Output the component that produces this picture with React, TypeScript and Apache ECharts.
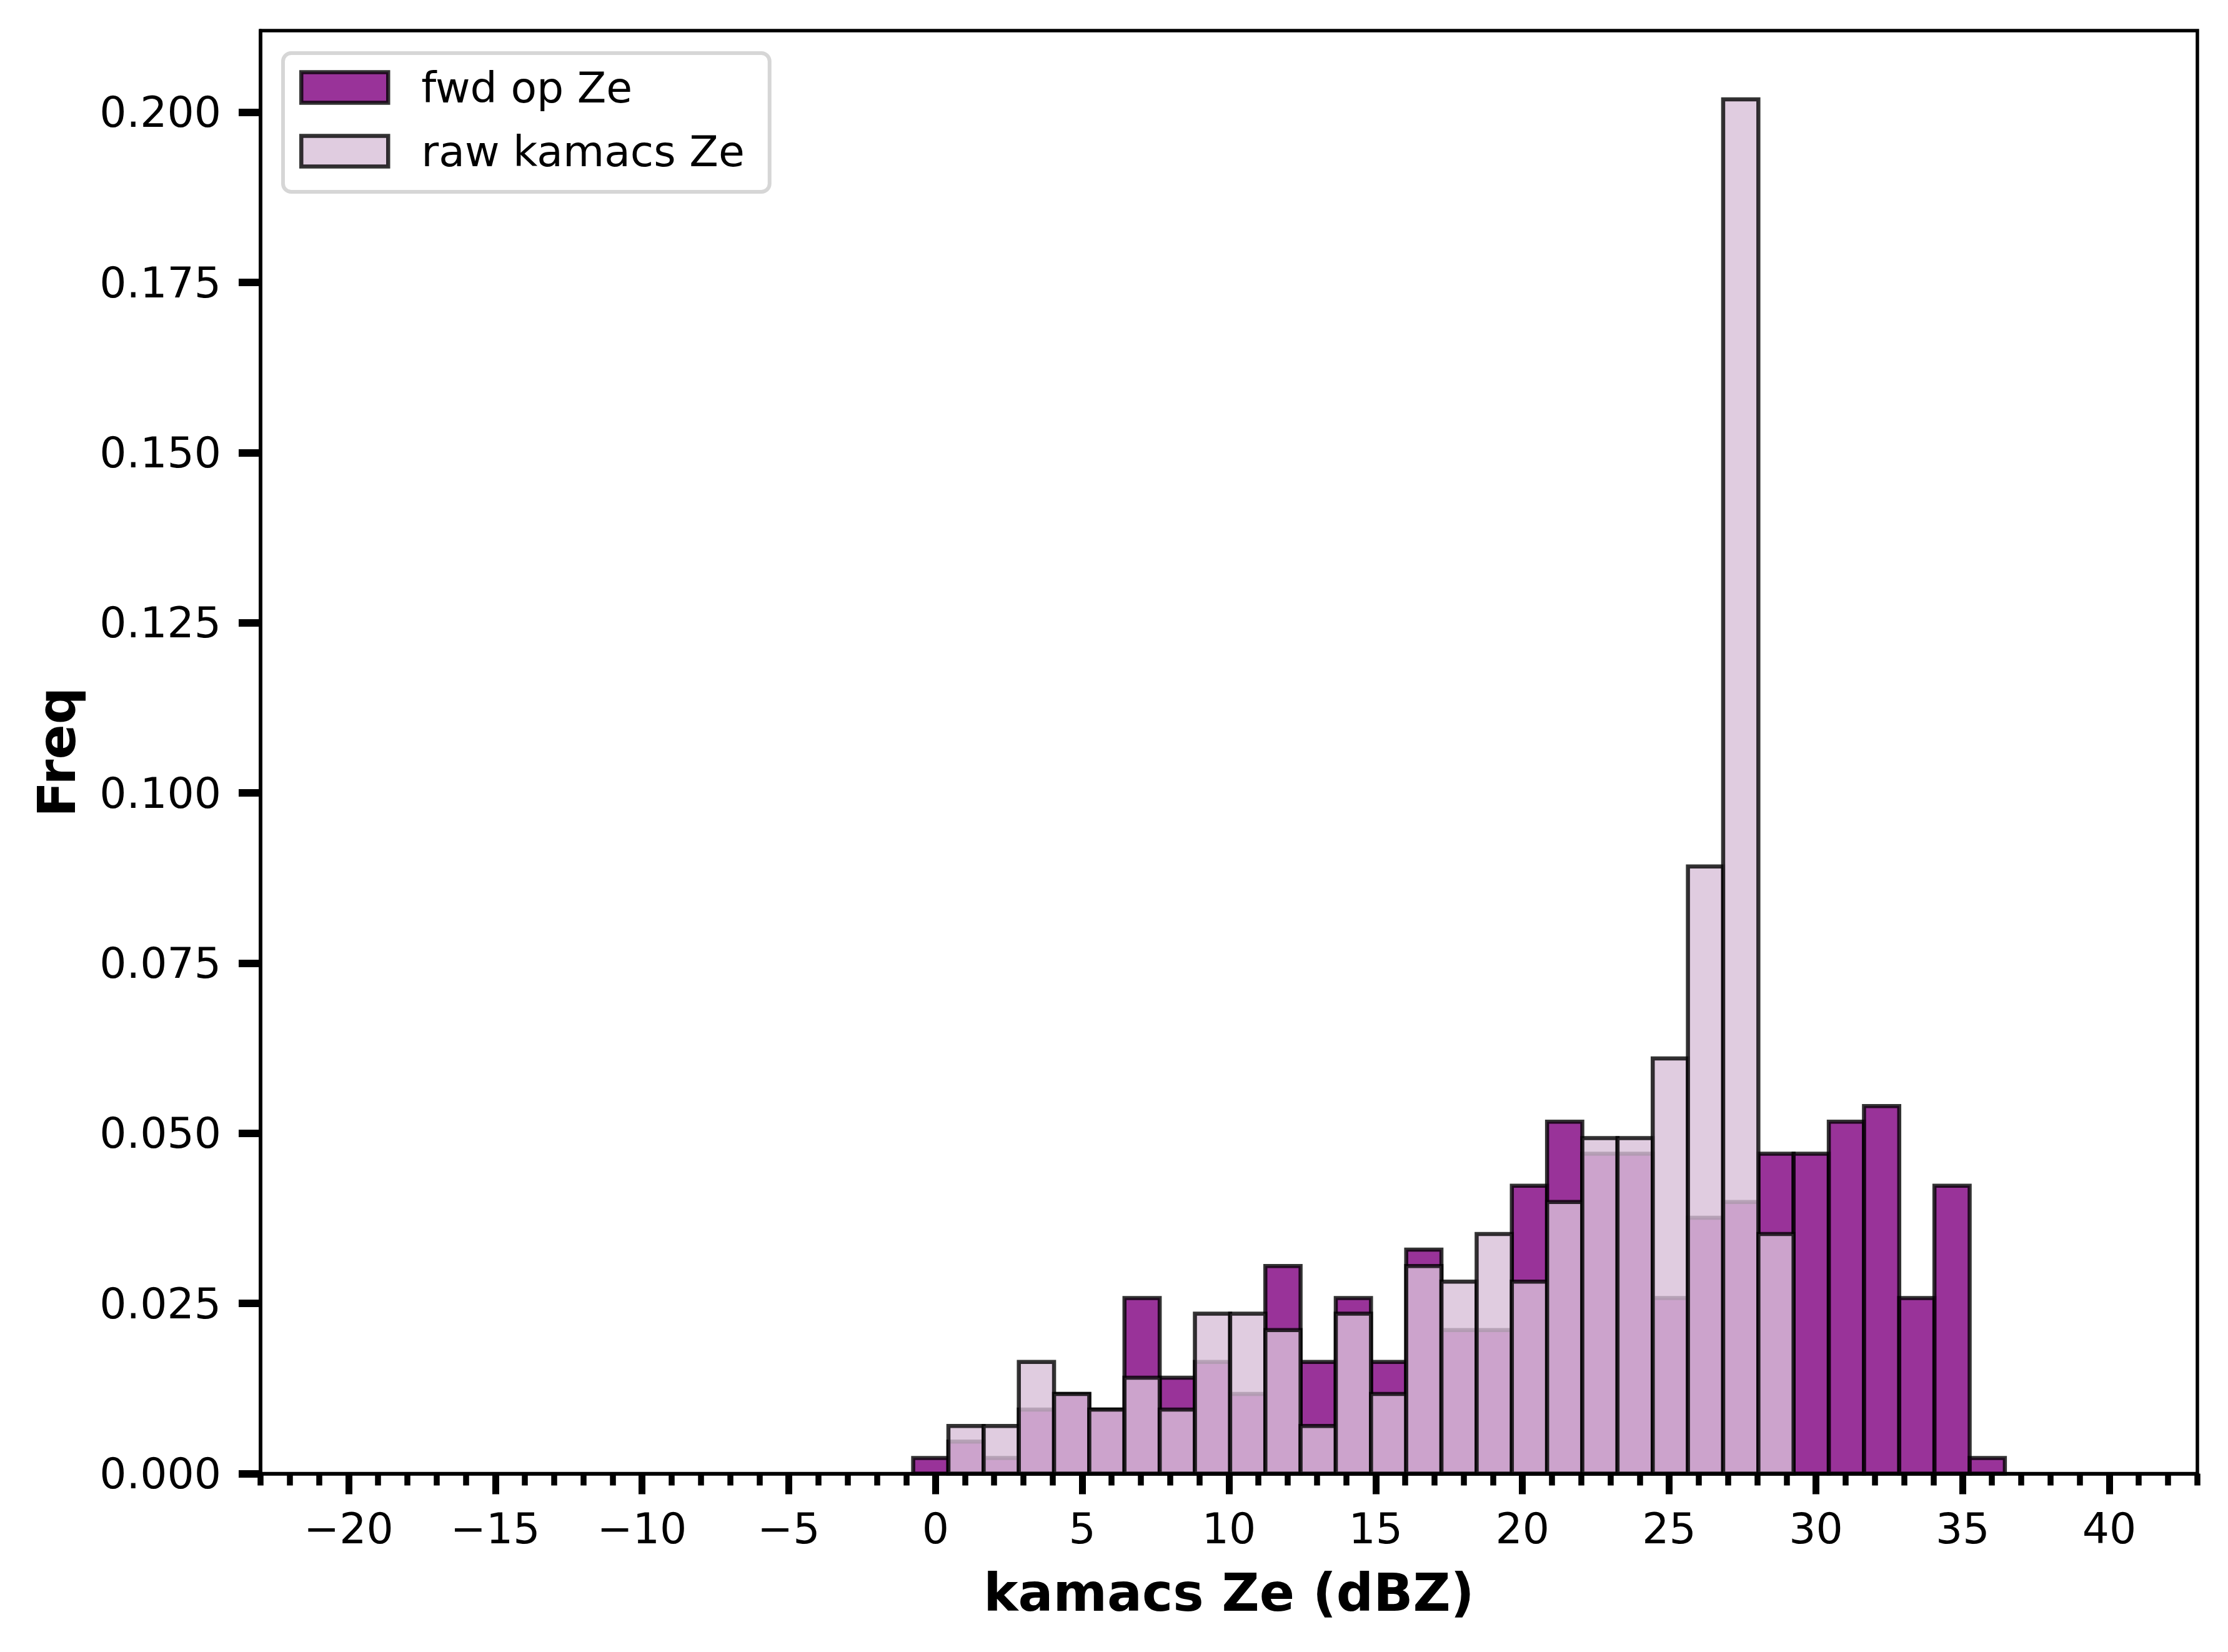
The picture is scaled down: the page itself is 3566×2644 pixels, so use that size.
import { useEffect, useRef } from 'react'
import * as echarts from 'echarts'

// ── Data ──────────────────────────────────────────────────────────────────────
// 31 bins of width 1.2 dBZ; values are the plotted frequencies
const BIN_EDGES = [
  -0.76, 0.44, 1.64, 2.84, 4.04, 5.24, 6.44, 7.64, 8.84, 10.04, 11.24,
  12.44, 13.64, 14.84, 16.04, 17.24, 18.44, 19.64, 20.84, 22.04, 23.24,
  24.44, 25.64, 26.84, 28.04, 29.24, 30.44, 31.64, 32.84, 34.04, 35.24, 36.44,
]

const FWD_FREQ = [
  0.0023, 0.0047, 0.0023, 0.0094, 0.0117, 0.0094, 0.0258, 0.0141, 0.0164, 0.0117,
  0.0305, 0.0164, 0.0258, 0.0164, 0.0329, 0.0211, 0.0211, 0.0423, 0.0517, 0.047,
  0.047, 0.0258, 0.0376, 0.0399, 0.047, 0.047, 0.0517, 0.054, 0.0258, 0.0423, 0.0023,
]

const RAW_FREQ = [
  0, 0.007, 0.007, 0.0164, 0.0117, 0.0094, 0.0141, 0.0094, 0.0235, 0.0235,
  0.0211, 0.007, 0.0235, 0.0117, 0.0305, 0.0282, 0.0352, 0.0282, 0.0399, 0.0493,
  0.0493, 0.061, 0.0892, 0.2019, 0.0352, 0, 0, 0, 0, 0, 0,
]

const X_MAJOR_TICKS = [-20, -15, -10, -5, 0, 5, 10, 15, 20, 25, 30, 35, 40]
const X_MINOR_TICKS = [
  -23, -22, -21, -19, -18, -17, -16, -14, -13, -12, -11, -9, -8, -7, -6, -4, -3, -2, -1,
  1, 2, 3, 4, 6, 7, 8, 9, 11, 12, 13, 14, 16, 17, 18, 19, 21, 22, 23, 24,
  26, 27, 28, 29, 31, 32, 33, 34, 36, 37, 38, 39, 41, 42, 43,
]
const Y_TICKS = [0, 0.025, 0.05, 0.075, 0.1, 0.125, 0.15, 0.175, 0.2]

const SERIES = [
  { name: 'fwd op Ze', values: FWD_FREQ, fill: 'rgba(128,0,128,0.8)' },
  { name: 'raw kamacs Ze', values: RAW_FREQ, fill: 'rgba(216,191,216,0.8)' },
]

const EDGE = 'rgba(0,0,0,0.8)'
const FONT = 'DejaVu Sans'

// plot rectangle (matplotlib axes box)
const GRID = { left: 417, right: 49, top: 49, bottom: 285.5 }

export default function App() {
  const chartRef = useRef<HTMLDivElement>(null)

  useEffect(() => {
    if (!chartRef.current) return
    const chart = echarts.init(chartRef.current, undefined, { renderer: 'svg' })

    const option: any = {
      animation: false,
      backgroundColor: '#fff',
      textStyle: { fontFamily: FONT, color: '#000' },
      grid: [
        { ...GRID, show: true, borderColor: '#000', borderWidth: 5.5, outerBoundsMode: 'none' },
        // second grid only carries the minor x ticks
        { ...GRID, show: false, outerBoundsMode: 'none' },
      ],
      legend: {
        orient: 'vertical',
        left: 453,
        top: 85,
        padding: [21, 40, 31, 26],
        itemWidth: 139,
        itemHeight: 49,
        itemGap: 34,
        backgroundColor: '#fff',
        borderColor: '#d6d6d6',
        borderWidth: 6,
        borderRadius: 13,
        textStyle: { fontSize: 68, fontFamily: FONT, color: '#000', padding: [0, 0, 0, 48] },
        data: SERIES.map(s => ({
          name: s.name,
          icon: 'rect',
          itemStyle: { color: s.fill, borderColor: EDGE, borderWidth: 6.5 },
        })),
        selectedMode: false,
        z: 20,
      },
      xAxis: [
        {
          type: 'value',
          gridIndex: 0,
          min: -23,
          max: 43,
          z: 10,
          name: 'kamacs Ze (dBZ)',
          nameLocation: 'middle',
          nameGap: 149,
          nameTextStyle: { fontSize: 83, fontWeight: 'bold', fontFamily: FONT, color: '#000' },
          axisLine: { show: true, onZero: false, lineStyle: { color: '#000', width: 5.5 } },
          axisTick: { show: true, customValues: X_MAJOR_TICKS, length: 33, lineStyle: { color: '#000', width: 11 } },
          axisLabel: {
            customValues: X_MAJOR_TICKS,
            margin: 54,
            fontSize: 68,
            fontFamily: FONT,
            color: '#000',
            formatter: (v: number) => (v < 0 ? `\u2212${-v}` : `${v}`),
          },
          splitLine: { show: false },
        },
        {
          type: 'value',
          gridIndex: 1,
          position: 'bottom',
          min: -23,
          max: 43,
          axisLine: { show: false },
          axisTick: { show: true, customValues: X_MINOR_TICKS, length: 19, lineStyle: { color: '#000', width: 9.5 } },
          axisLabel: { show: false },
          splitLine: { show: false },
        },
      ],
      yAxis: [
        {
          type: 'value',
          gridIndex: 0,
          min: 0,
          max: 0.212,
          z: 10,
          name: 'Freq',
          nameLocation: 'middle',
          nameGap: 284,
          nameRotate: 90,
          nameTextStyle: { fontSize: 83, fontWeight: 'bold', fontFamily: FONT, color: '#000' },
          axisLine: { show: true, onZero: false, lineStyle: { color: '#000', width: 5.5 } },
          axisTick: { show: true, customValues: Y_TICKS, length: 35, lineStyle: { color: '#000', width: 12 } },
          axisLabel: {
            customValues: Y_TICKS,
            margin: 63,
            fontSize: 68,
            fontFamily: FONT,
            color: '#000',
            formatter: (v: number) => v.toFixed(3),
          },
          splitLine: { show: false },
        },
        { type: 'value', gridIndex: 1, min: 0, max: 1, show: false },
      ],
      series: SERIES.map(s => ({
        type: 'custom',
        name: s.name,
        xAxisIndex: 0,
        yAxisIndex: 0,
        itemStyle: { color: s.fill, borderColor: EDGE, borderWidth: 6.5 },
        encode: { x: [0, 1], y: 2 },
        data: s.values
          .map((v, i) => [BIN_EDGES[i], BIN_EDGES[i + 1], v])
          .filter(d => d[2] > 0),
        renderItem: (_params: any, api: any) => {
          const p0 = api.coord([api.value(0), 0])
          const p1 = api.coord([api.value(1), api.value(2)])
          return {
            type: 'rect',
            shape: { x: p0[0], y: p1[1], width: p1[0] - p0[0], height: p0[1] - p1[1] },
            style: { fill: s.fill, stroke: EDGE, lineWidth: 6.5 },
          }
        },
      })),
    }

    chart.setOption(option)
    return () => chart.dispose()
  }, [])

  return (
    <div
      ref={chartRef}
      style={{ position: 'absolute', left: 0, top: 0, width: 3566, height: 2644, background: '#fff' }}
    />
  )
}
